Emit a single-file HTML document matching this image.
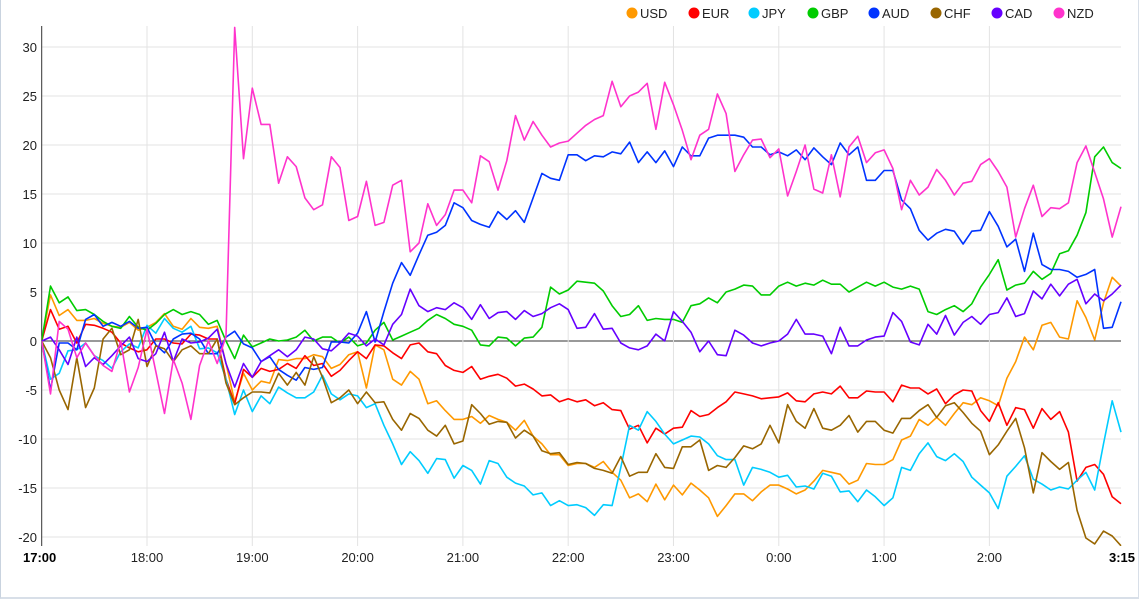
<!DOCTYPE html>
<html><head><meta charset="utf-8"><style>
html,body{margin:0;padding:0;background:#fff;}
body{width:1139px;height:600px;overflow:hidden;font-family:"Liberation Sans",sans-serif;}
#wrap{position:absolute;left:0;top:0;width:1137px;height:597px;border-left:1px solid #c9d3df;border-bottom:2px solid #d8dfe8;border-right:1px solid #d8dfe8;}
</style></head><body>
<div id="wrap">
<svg id="chart" width="1139" height="600" xmlns="http://www.w3.org/2000/svg"></svg>
</div>
<script>
const seriesNames = ["USD","EUR","JPY","GBP","AUD","CHF","CAD","NZD"];
const seriesColors = ["#ff9900","#ff0000","#00ccff","#00cc00","#0033ff","#996600","#6600ff","#ff33cc"];
const xTickLabels = ["17:00","18:00","19:00","20:00","21:00","22:00","23:00","0:00","1:00","2:00","3:15"];
const xTickMinutes = [0,60,120,180,240,300,360,420,480,540,615];
const yTicks = [-20,-15,-10,-5,0,5,10,15,20,25,30];
const stepMinutes = 5;

const USD = [0,4.7,2.6,3.2,2.1,2.1,2.3,1.8,1.5,1.4,1.9,1.1,1.4,1.9,2.8,1.5,1.2,2.3,1.4,1.3,1.5,-2.3,-6.2,-3.3,-5,-4.1,-4.3,-1.9,-2,-1.8,-1.8,-1.4,-1.6,-2.8,-2.4,-1.4,-1.1,-4.8,-0.4,-0.9,-3.9,-4.5,-3.1,-3.9,-6.4,-6.1,-7.1,-8,-8,-7.7,-8.4,-7.6,-8,-8.3,-9.1,-8.1,-9.7,-10.5,-11.6,-11.6,-12.7,-12.5,-12.5,-12.9,-12.3,-13.4,-14.2,-16,-15.6,-16.4,-14.6,-16.2,-14.7,-15.7,-14.5,-15.2,-16,-17.9,-16.8,-15.6,-15.6,-16.3,-15.4,-14.7,-14.7,-15.1,-15.6,-15.2,-14.3,-13.2,-13.4,-13.6,-14.6,-14.2,-12.5,-12.6,-12.6,-12.1,-10.1,-9.7,-8,-8.6,-7.8,-8.6,-7.4,-6.3,-6.5,-5.8,-6.1,-6.6,-3.8,-2.1,0.4,-0.9,1.6,1.9,0.4,0.2,4.1,2.4,0.1,3.9,6.5,5.6];
const EUR = [0,3.2,1.2,1.5,-0.2,1.7,1.6,1.3,0.9,-0.2,-0.7,-1.1,-0.9,0.2,0.2,-0.2,-0.3,0.7,0.6,0.2,0.2,-3.9,-6.4,-2.9,-3.7,-2.8,-3.1,-2.9,-2.3,-2.8,-1.5,-2.5,-2.3,-3.6,-3,-2,-1.1,-1.8,-0.4,-0.5,-1.2,-1.8,-0.4,-0.2,-1.1,-1.3,-2.5,-3,-3.2,-2.6,-3.9,-3.6,-3.4,-3.8,-4.6,-4.4,-4.9,-5.6,-5.5,-6.2,-5.9,-6.2,-6,-6.6,-6.3,-7,-7.1,-9,-8.6,-10.4,-8.9,-9.5,-8.9,-8.8,-7.1,-7.7,-7.5,-6.8,-6.2,-5.2,-5.4,-5.6,-5.9,-5.8,-5.7,-5.3,-6.1,-6.2,-5.4,-5.2,-5.4,-4.6,-5.8,-5.8,-5.1,-5.2,-5.2,-6.2,-4.5,-4.8,-4.8,-5.4,-4.9,-6.4,-5.5,-5,-5.1,-7.1,-8.2,-6.3,-8.6,-6.8,-7,-8.9,-6.9,-8,-7.2,-9.3,-14.3,-12.9,-12.6,-13.6,-15.9,-16.6];
const JPY = [0,-3.9,-3.3,-1,-0.9,-0.2,-1.5,-2,-2.8,-1.1,-0.3,-0.7,1.6,0.8,2.3,1.3,0.9,1.5,-0.8,-0.7,-1.2,-3.9,-7.5,-5,-7.2,-5.6,-6.4,-4.7,-5.3,-5.8,-5.8,-5.2,-3.5,-5.4,-6,-5.4,-5.6,-6.8,-6.4,-8.6,-10.5,-12.6,-11.3,-12.2,-13.5,-12,-12.1,-14,-12.7,-13.2,-14.6,-12.2,-12.5,-13.9,-14.5,-14.8,-15.7,-15.5,-16.8,-16.3,-16.8,-16.7,-17,-17.8,-16.7,-16.8,-12.9,-8.6,-9.1,-7.2,-8.2,-9.5,-10.5,-10.1,-9.7,-9.8,-10.5,-11.7,-12.1,-12.1,-14.7,-12.9,-13.1,-13.4,-13.9,-13.7,-14.9,-14.8,-15.1,-13.5,-13.8,-15.4,-15.3,-16.4,-15.2,-15.9,-16.8,-16,-12.9,-13.2,-11.5,-10.4,-11.8,-12.2,-11.5,-12.3,-13.9,-14.7,-15.5,-17.1,-13.8,-12.8,-11.7,-14.1,-14.6,-15.2,-14.9,-15.1,-14.2,-13.4,-15.2,-10.5,-6.1,-9.3];
const GBP = [0,5.6,3.9,4.5,3.1,3.2,2.7,2,1.5,1.3,2.5,1.4,1.1,1.8,2.7,3.2,2.7,3,2.7,1.7,2.1,0,-1.8,0.6,-0.6,-0.2,0.2,0,0.1,0.4,1.1,0,0.4,0.4,-0.2,0.4,-0.5,-0.2,1.1,1.9,0.1,0.5,0.9,1.3,2.1,2.7,2.3,1.7,1.5,1.1,-0.4,-0.5,0.4,0.3,-0.5,0.3,0.4,1.4,5.5,4.8,5.2,6.1,6,5.9,5.1,3.6,2.5,2.7,3.6,2.1,2.3,2.2,2.2,1.9,3.6,3.8,4.4,3.9,5,5.3,5.7,5.6,4.7,4.7,5.6,6,5.6,5.9,5.7,6.2,5.8,5.8,5,5.5,6,5.6,6,5.5,5.3,5.6,5.3,3,2.7,3.2,3.6,3,3.8,5.5,6.8,8.3,5.2,5.7,5.9,7.1,6.3,6.9,8.9,9.2,10.8,13.1,18.8,19.8,18.2,17.6];
const AUD = [0,-5,-0.2,-0.2,-0.9,2.2,2.7,1.5,1.9,1.5,2,1.3,1.4,-0.4,-1.2,0.2,0.7,0.8,0.2,-1.3,-1.3,0.4,1,-0.3,-0.7,-2.1,-1.6,-2.9,-3.5,-4,-2.7,-2.9,-2.7,-0.1,-0.1,-0.2,0.8,3,-0.1,3,5.9,8,6.7,8.8,10.8,11.1,11.8,14.1,13.6,12.3,11.9,11.6,13.2,12.4,13.3,12.1,14.6,17.1,16.6,16.4,19,19,18.4,18.9,18.8,19.3,19.1,20.3,18.2,19.3,18.2,19.4,17.8,19.8,18.9,18.9,20.7,21,21,21,20.8,19.8,19.8,19,19.3,18.9,19.5,18.5,19.7,18.8,18,20.2,19,19.8,16.4,16.4,17.4,17.4,14.4,13.5,11.3,10.3,11,11.4,11.2,9.9,11.2,11.3,13.2,11.7,9.6,10.4,7.1,11,7.8,7.3,7.3,7.1,6.5,6.8,7.3,1.3,1.4,4];
const CHF = [0,-1.7,-5,-7,-1.7,-6.8,-4.8,0.2,1.3,-1.4,-0.9,2.2,-2.6,-0.5,-0.8,-2.1,-0.9,-0.5,-1.3,-1.3,0.2,-4.3,-6.5,-5.8,-5.2,-5.2,-5.3,-3.3,-4.5,-3.2,-4.5,-1.6,-3.7,-6.3,-5.8,-5,-6.4,-5.2,-6.3,-6.2,-8,-9.1,-7.4,-7.9,-9.1,-9.7,-8.6,-10.5,-10.2,-6.5,-7.4,-8.5,-8.2,-8.3,-9.9,-9.1,-9.7,-11.2,-11.5,-11.4,-12.6,-12.4,-12.5,-13,-13.2,-13.5,-11.8,-13.8,-13.4,-13.4,-11.5,-12.9,-13,-10.8,-10.8,-10.1,-13.2,-12.7,-12.9,-11.9,-10.7,-11,-10.5,-8.6,-10.4,-6.5,-8.2,-8.9,-6.9,-8.9,-9.1,-8.6,-7.6,-9.3,-8.2,-8.2,-9.1,-9.4,-7.9,-7.9,-7.1,-6.5,-7.8,-6.6,-6.3,-7.3,-8.4,-9.2,-11.6,-10.6,-9.2,-7.9,-10.9,-15.5,-11.4,-12.3,-13.1,-12.4,-17.3,-20.1,-20.7,-19.4,-19.9,-20.9];
const CAD = [0,0.4,-0.9,-2.4,0.4,-2.6,-1.7,-2.4,-1.5,-0.5,0.4,-1.8,-2.1,-1.3,0.9,-2.1,0.2,-0.2,-0.1,0.3,1.2,-2.3,-4.7,-2.3,-3.7,-2.1,-1.5,-0.9,-1.6,-0.9,0.4,0.2,-0.8,-1,-0.2,0.8,0.5,-0.5,0.2,-0.4,1.7,2.7,5.3,3.6,3,3.4,3.2,3.9,3.4,2.2,3.7,2.3,2.9,3,2.2,3.1,2.5,2.8,3.4,3.8,3.2,1.3,1.4,2.8,1.2,1.3,-0.2,-0.7,-0.9,-0.5,0.7,0,3,2,0.9,-1.1,0,-1.4,-1.5,1.1,0.6,-0.2,-0.5,-0.2,0,0.7,2.2,0.7,0.7,0.5,-1.3,1.4,-0.5,-0.5,0.1,0.4,0.5,2.9,2,-0.1,-0.4,1.7,0.7,2.6,0.6,1.9,2.5,1.7,2.7,2.9,4.4,2.5,2.8,5.1,4.3,5.8,4.6,5.8,6.3,3.8,4.8,4.1,4.8,5.7];
const NZD = [0,-5.4,2,1.2,-1.7,-0.2,-1.5,-2.5,-3.1,0,-5.2,-2.7,1.2,-3.1,-7.4,-1.9,-4.3,-8,-2.5,0,-2.3,0.5,32,18.6,25.8,22.1,22.1,16.1,18.8,17.8,14.6,13.4,13.9,18.8,17.7,12.3,12.7,16.3,11.8,12.1,15.9,16.4,9.1,10,14,11.8,12.9,15.4,15.4,14.1,18.9,18.3,15.4,18.4,23,20.5,22.4,21,19.8,20.2,20.4,21.2,22,22.6,23,26.5,23.9,25,25.4,26.3,21.6,26.4,24.1,21.5,18.5,21,21.6,25.2,23.2,17.3,19,20.5,20.6,18.7,19.6,14.8,17.3,20,15.5,15.1,19,14.7,19.8,20.9,18.2,19.2,19.5,17.6,13.4,16.4,14.9,15.7,17.5,16.4,14.9,16.1,16.3,18,18.6,17.3,15.7,10.6,13.5,15.9,12.7,13.6,13.5,14.1,18.2,19.9,17.2,14.5,10.6,13.7];
const seriesData = [USD,EUR,JPY,GBP,AUD,CHF,CAD,NZD];

const NS="http://www.w3.org/2000/svg";
const svg=document.getElementById('chart');
const L=40.7,R=1120,T=26,B=546;
const minutesSpan=615;
function xScale(m){return L+(m/minutesSpan)*(R-L);}
function yScale(v){return 341-v*9.8;}
function mk(tag,attrs){const e=document.createElementNS(NS,tag);for(const k in attrs)e.setAttribute(k,attrs[k]);svg.appendChild(e);return e;}

// grid
yTicks.forEach(v=>{
  const g=mk('line',{x1:L,x2:R,y1:yScale(v),y2:yScale(v),stroke:v===0?'#333':'#e3e3e3','stroke-width':1});
  
  
  const t=mk('text',{x:36,y:yScale(v)+5,'text-anchor':'end','font-size':13,fill:'#222','font-family':'Liberation Sans, sans-serif'});
  t.textContent=String(v);
  
  
});
xTickMinutes.forEach((m,i)=>{
  if(i>0&&i<xTickMinutes.length-1){
    const g=mk('line',{x1:xScale(m),x2:xScale(m),y1:T,y2:B,stroke:'#e3e3e3','stroke-width':1});
    
    
  }
  const bold=(i===0||i===xTickMinutes.length-1);
  const anchor=i===0?'start':(i===xTickMinutes.length-1?'end':'middle');
  const xx=i===0?22:(i===xTickMinutes.length-1?1134:xScale(m));
  const t=mk('text',{x:xx,y:562,'text-anchor':anchor,'font-size':13,fill:bold?'#000':'#222','font-weight':bold?'bold':'normal','font-family':'Liberation Sans, sans-serif'});
  t.textContent=xTickLabels[i];
  
  
});
const ax=mk('line',{x1:L,x2:L,y1:T,y2:B,stroke:'#333','stroke-width':1});



const defs=mk('defs',{});
const cp=document.createElementNS(NS,'clipPath');cp.setAttribute('id','clip');
const cr=document.createElementNS(NS,'rect');cr.setAttribute('x',L);cr.setAttribute('y',T);cr.setAttribute('width',R-L+2);cr.setAttribute('height',B-T);
cp.appendChild(cr);defs.appendChild(cp);

seriesData.forEach((arr,si)=>{
  const pts=arr.map((v,i)=>xScale(i*stepMinutes).toFixed(1)+','+yScale(v).toFixed(1)).join(' ');
  const p=mk('polyline',{points:pts,fill:'none',stroke:seriesColors[si],'stroke-width':1.6,'stroke-linejoin':'round','clip-path':'url(#clip)'});
  
  
});

// legend
const legendX=[631,693,753,812,873,935,996,1058];
seriesNames.forEach((n,i)=>{
  const c=mk('circle',{cx:legendX[i],cy:13,r:5.5,fill:seriesColors[i]});
  
  
  const t=mk('text',{x:legendX[i]+8,y:18,'font-size':13,fill:'#222','font-family':'Liberation Sans, sans-serif'});
  t.textContent=n;
  
  
});
</script>
</body></html>
